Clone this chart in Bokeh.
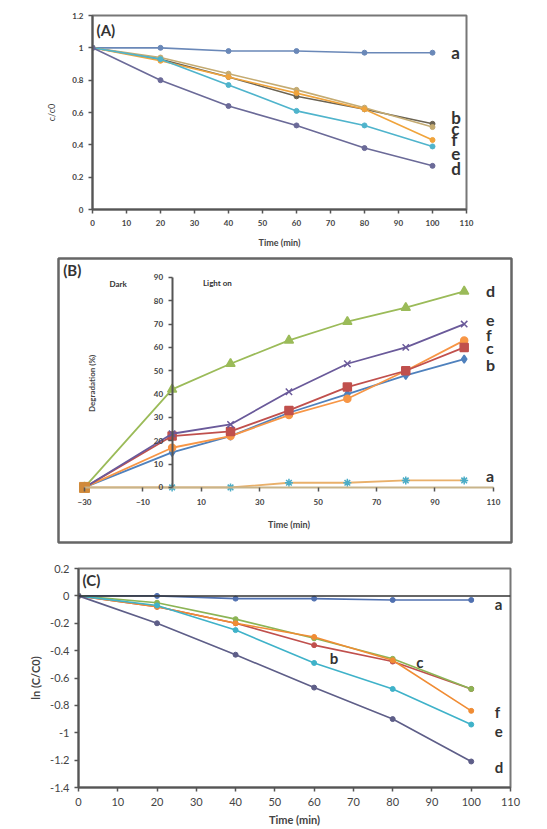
import math
from bokeh.plotting import figure
from bokeh.models import LinearAxis, Range1d, FixedTicker, Span
from bokeh.embed import file_html
from bokeh.resources import INLINE
from bokeh.core.properties import value

# ---------------- data ----------------
# Panel A : C/C0 vs time
time_A = [0, 20, 40, 60, 80, 100]
A_a = [1.0, 1.0, 0.98, 0.98, 0.97, 0.97]
A_b = [1.0, 0.93, 0.82, 0.70, 0.62, 0.53]
A_c = [1.0, 0.94, 0.84, 0.74, 0.63, 0.51]
A_f = [1.0, 0.92, 0.82, 0.72, 0.62, 0.43]
A_e = [1.0, 0.93, 0.77, 0.61, 0.52, 0.39]
A_d = [1.0, 0.80, 0.64, 0.52, 0.38, 0.27]
A_xticks = [0, 10, 20, 30, 40, 50, 60, 70, 80, 90, 100, 110]
A_yticks = [0, 0.2, 0.4, 0.6, 0.8, 1, 1.2]
A_ylabels = ["0", "0.2", "0.4", "0.6", "0.8", "1", "1.2"]

# Panel B : degradation (%) vs time (dark from -30)
time_B = [-30, 0, 20, 40, 60, 80, 100]
B_d = [0, 42, 53, 63, 71, 77, 84]
B_e = [0, 23, 27, 41, 53, 60, 70]
B_c = [0, 22, 24, 33, 43, 50, 60]
B_f = [0, 17, 22, 31, 38, 50, 63]
B_b = [0, 15, 22, 32, 40, 48, 55]
B_a = [0, 0, 0, 2, 2, 3, 3]
B_xticks = [-30, -10, 10, 30, 50, 70, 90, 110]
B_yticks = [0, 10, 20, 30, 40, 50, 60, 70, 80, 90]

# Panel C : ln(C/C0) vs time
time_C = [0, 20, 40, 60, 80, 100]
C_a = [0, 0.0, -0.02, -0.02, -0.03, -0.03]
C_b = [0, -0.08, -0.20, -0.36, -0.48, -0.68]
C_c = [0, -0.05, -0.17, -0.31, -0.46, -0.68]
C_f = [0, -0.08, -0.20, -0.30, -0.47, -0.84]
C_e = [0, -0.07, -0.25, -0.49, -0.68, -0.94]
C_d = [0, -0.20, -0.43, -0.67, -0.90, -1.21]
C_xticks = [0, 10, 20, 30, 40, 50, 60, 70, 80, 90, 100, 110]
C_yticks = [0.2, 0, -0.2, -0.4, -0.6, -0.8, -1, -1.2, -1.4]
C_ylabels = ["0.2", "0", "-0.2", "-0.4", "-0.6", "-0.8", "-1", "-1.2", "-1.4"]

FONT = value("Lato")
TXT = "#333333"


def style_axis(ax, size, bold=False, title_size=None, title_bold=True):
    ax.major_label_text_font = "Lato"
    ax.major_label_text_font_size = size
    ax.major_label_text_color = "#444444"
    ax.major_label_text_font_style = "bold" if bold else "normal"
    ax.axis_label_text_font = "Lato"
    ax.axis_label_text_font_size = title_size or size
    ax.axis_label_text_font_style = "bold" if title_bold else "normal"
    ax.axis_label_text_color = "#444444"
    ax.axis_line_color = "#555555"
    ax.axis_line_width = 2
    ax.major_tick_line_color = "#555555"
    ax.major_tick_line_width = 1.5
    ax.major_tick_out = 4
    ax.major_tick_in = 0
    ax.minor_tick_line_color = None


# ---------------- Panel A ----------------
pA = figure(width=547, height=254, x_range=Range1d(0, 110), y_range=Range1d(0, 1.2),
            output_backend="svg", toolbar_location=None,
            min_border_left=92, min_border_right=81, min_border_top=15, min_border_bottom=45)
pA.grid.visible = False
pA.outline_line_color = "#777777"
pA.outline_line_width = 2
pA.xaxis.ticker = FixedTicker(ticks=A_xticks)
pA.yaxis.ticker = FixedTicker(ticks=A_yticks)
pA.yaxis.major_label_overrides = {t: l for t, l in zip(A_yticks, A_ylabels)}
pA.xaxis.axis_label = "Time (min)"
pA.yaxis.axis_label = "c/c0"
style_axis(pA.xaxis[0], "8px", bold=True, title_size="9px")
style_axis(pA.yaxis[0], "8px", bold=True, title_size="9px", title_bold=False)
pA.yaxis.axis_label_standoff = 12
pA.xaxis.major_label_standoff = 6
pA.xaxis.axis_label_standoff = 8

seriesA = [(A_a, "#6a88b8"), (A_b, "#6b6352"), (A_c, "#c4ab72"),
           (A_f, "#f0a43c"), (A_e, "#4fb4cc"), (A_d, "#6b6a98")]
for ys, col in seriesA:
    pA.line(time_A, ys, line_color=col, line_width=1.6)
    pA.scatter(time_A, ys, size=5, color=col, marker="circle")

pA.text(x=[105.5, 105.5, 105.5, 105.5, 105.5, 105.5],
        y=[0.97, 0.57, 0.50, 0.43, 0.345, 0.255],
        text=["a", "b", "c", "f", "e", "d"], text_font=FONT, text_font_size="17px",
        text_font_style="bold", text_color=TXT, text_baseline="middle", text_align="left")
pA.text(x=[1.2], y=[1.165], text=["(A)"], text_font=FONT, text_font_size="15px",
        text_font_style="bold", text_color=TXT, text_baseline="top", text_align="left")

# ---------------- Panel B ----------------
pB = figure(width=547, height=292, x_range=Range1d(-38.9, 116.2), y_range=Range1d(-23.6, 98.1),
            output_backend="svg", toolbar_location=None, x_axis_type=None, y_axis_type=None,
            min_border_left=58, min_border_right=36, min_border_top=4, min_border_bottom=4)
pB.grid.visible = False
pB.outline_line_color = "#666666"
pB.outline_line_width = 2.5

yB = LinearAxis(fixed_location=0, bounds=(0, 90), ticker=FixedTicker(ticks=B_yticks))
style_axis(yB, "8px", bold=True)
pB.add_layout(yB, "left")
xB = LinearAxis(fixed_location=0, bounds=(-30, 110), ticker=FixedTicker(ticks=B_xticks),
                axis_label="Time (min)")
style_axis(xB, "8px", bold=True, title_size="9px")
xB.axis_line_color = "#c8b48a"
xB.major_label_standoff = 8
xB.axis_label_standoff = 10
pB.add_layout(xB, "below")

pB.text(x=[-27.3], y=[44.6], text=["Degradation (%)"], angle=math.pi / 2,
        text_font=FONT, text_font_size="8px", text_font_style="bold", text_color="#444444",
        text_baseline="middle", text_align="center")

pB.line(time_B, B_a, line_color="#e9b06a", line_width=1.8)
pB.scatter(time_B, B_a, size=8, color="#4bacc6", marker="asterisk", line_width=1.5)
seriesB = [(B_b, "#4f81bd", "diamond", 8), (B_f, "#f79646", "circle", 7),
           (B_c, "#c0504d", "square", 8), (B_e, "#6a5a9a", "x", 9),
           (B_d, "#9bbb59", "triangle", 9)]
for ys, col, mk, sz in seriesB:
    pB.line(time_B, ys, line_color=col, line_width=1.8)
    pB.scatter(time_B, ys, size=sz, color=col, marker=mk, line_width=1.5)
pB.scatter([time_B[0]], [0], size=10, color="#d08a3a", marker="square")

pB.text(x=[107.5] * 6, y=[84.4, 71.6, 65.5, 59.8, 52.5, 5.2],
        text=["d", "e", "f", "c", "b", "a"], text_font=FONT, text_font_size="16px",
        text_font_style="bold", text_color=TXT, text_baseline="middle", text_align="left")
pB.text(x=[-37.3], y=[97.0], text=["(B)"], text_font=FONT, text_font_size="15px",
        text_font_style="bold", text_color=TXT, text_baseline="top", text_align="left")
pB.text(x=[-18.5, 15.5], y=[87.0, 87.5], text=["Dark", "Light on"], text_font=FONT,
        text_font_size="8px", text_font_style="bold", text_color=TXT,
        text_baseline="middle", text_align="center")

# ---------------- Panel C ----------------
pC = figure(width=547, height=283, x_range=Range1d(0, 110), y_range=Range1d(-1.4, 0.2),
            output_backend="svg", toolbar_location=None,
            min_border_left=78, min_border_right=37, min_border_top=22, min_border_bottom=42)
pC.grid.visible = False
pC.outline_line_color = "#777777"
pC.outline_line_width = 2
pC.xaxis.ticker = FixedTicker(ticks=C_xticks)
pC.yaxis.ticker = FixedTicker(ticks=C_yticks)
pC.yaxis.major_label_overrides = {t: l for t, l in zip(C_yticks, C_ylabels)}
pC.xaxis.axis_label = "Time (min)"
pC.yaxis.axis_label = "ln (C/C0)"
style_axis(pC.xaxis[0], "11px", bold=False, title_size="11px")
style_axis(pC.yaxis[0], "11px", bold=False, title_size="11px")
pC.yaxis.axis_label_standoff = 5
pC.xaxis.major_label_standoff = 6
pC.xaxis.axis_label_standoff = 4
pC.add_layout(Span(location=0, dimension="width", line_color="#333333", line_width=1.5))

seriesC = [(C_a, "#5070b0"), (C_b, "#c0504d"), (C_c, "#8cb455"),
           (C_f, "#f08c34"), (C_e, "#3fb2c9"), (C_d, "#5e5e88")]
for ys, col in seriesC:
    pC.line(time_C, ys, line_color=col, line_width=1.6)
    pC.scatter(time_C, ys, size=5, color=col, marker="circle")

pC.text(x=[106, 64, 86, 106, 106, 106], y=[-0.06, -0.455, -0.48, -0.85, -0.99, -1.25],
        text=["a", "b", "c", "f", "e", "d"], text_font=FONT, text_font_size="15px",
        text_font_style="bold", text_color=TXT, text_baseline="middle", text_align="left")
pC.text(x=[1.0], y=[0.185], text=["(C)"], text_font=FONT, text_font_size="15px",
        text_font_style="bold", text_color=TXT, text_baseline="top", text_align="left")

open("out.html", "w").write(file_html([pA, pB, pC], INLINE))
